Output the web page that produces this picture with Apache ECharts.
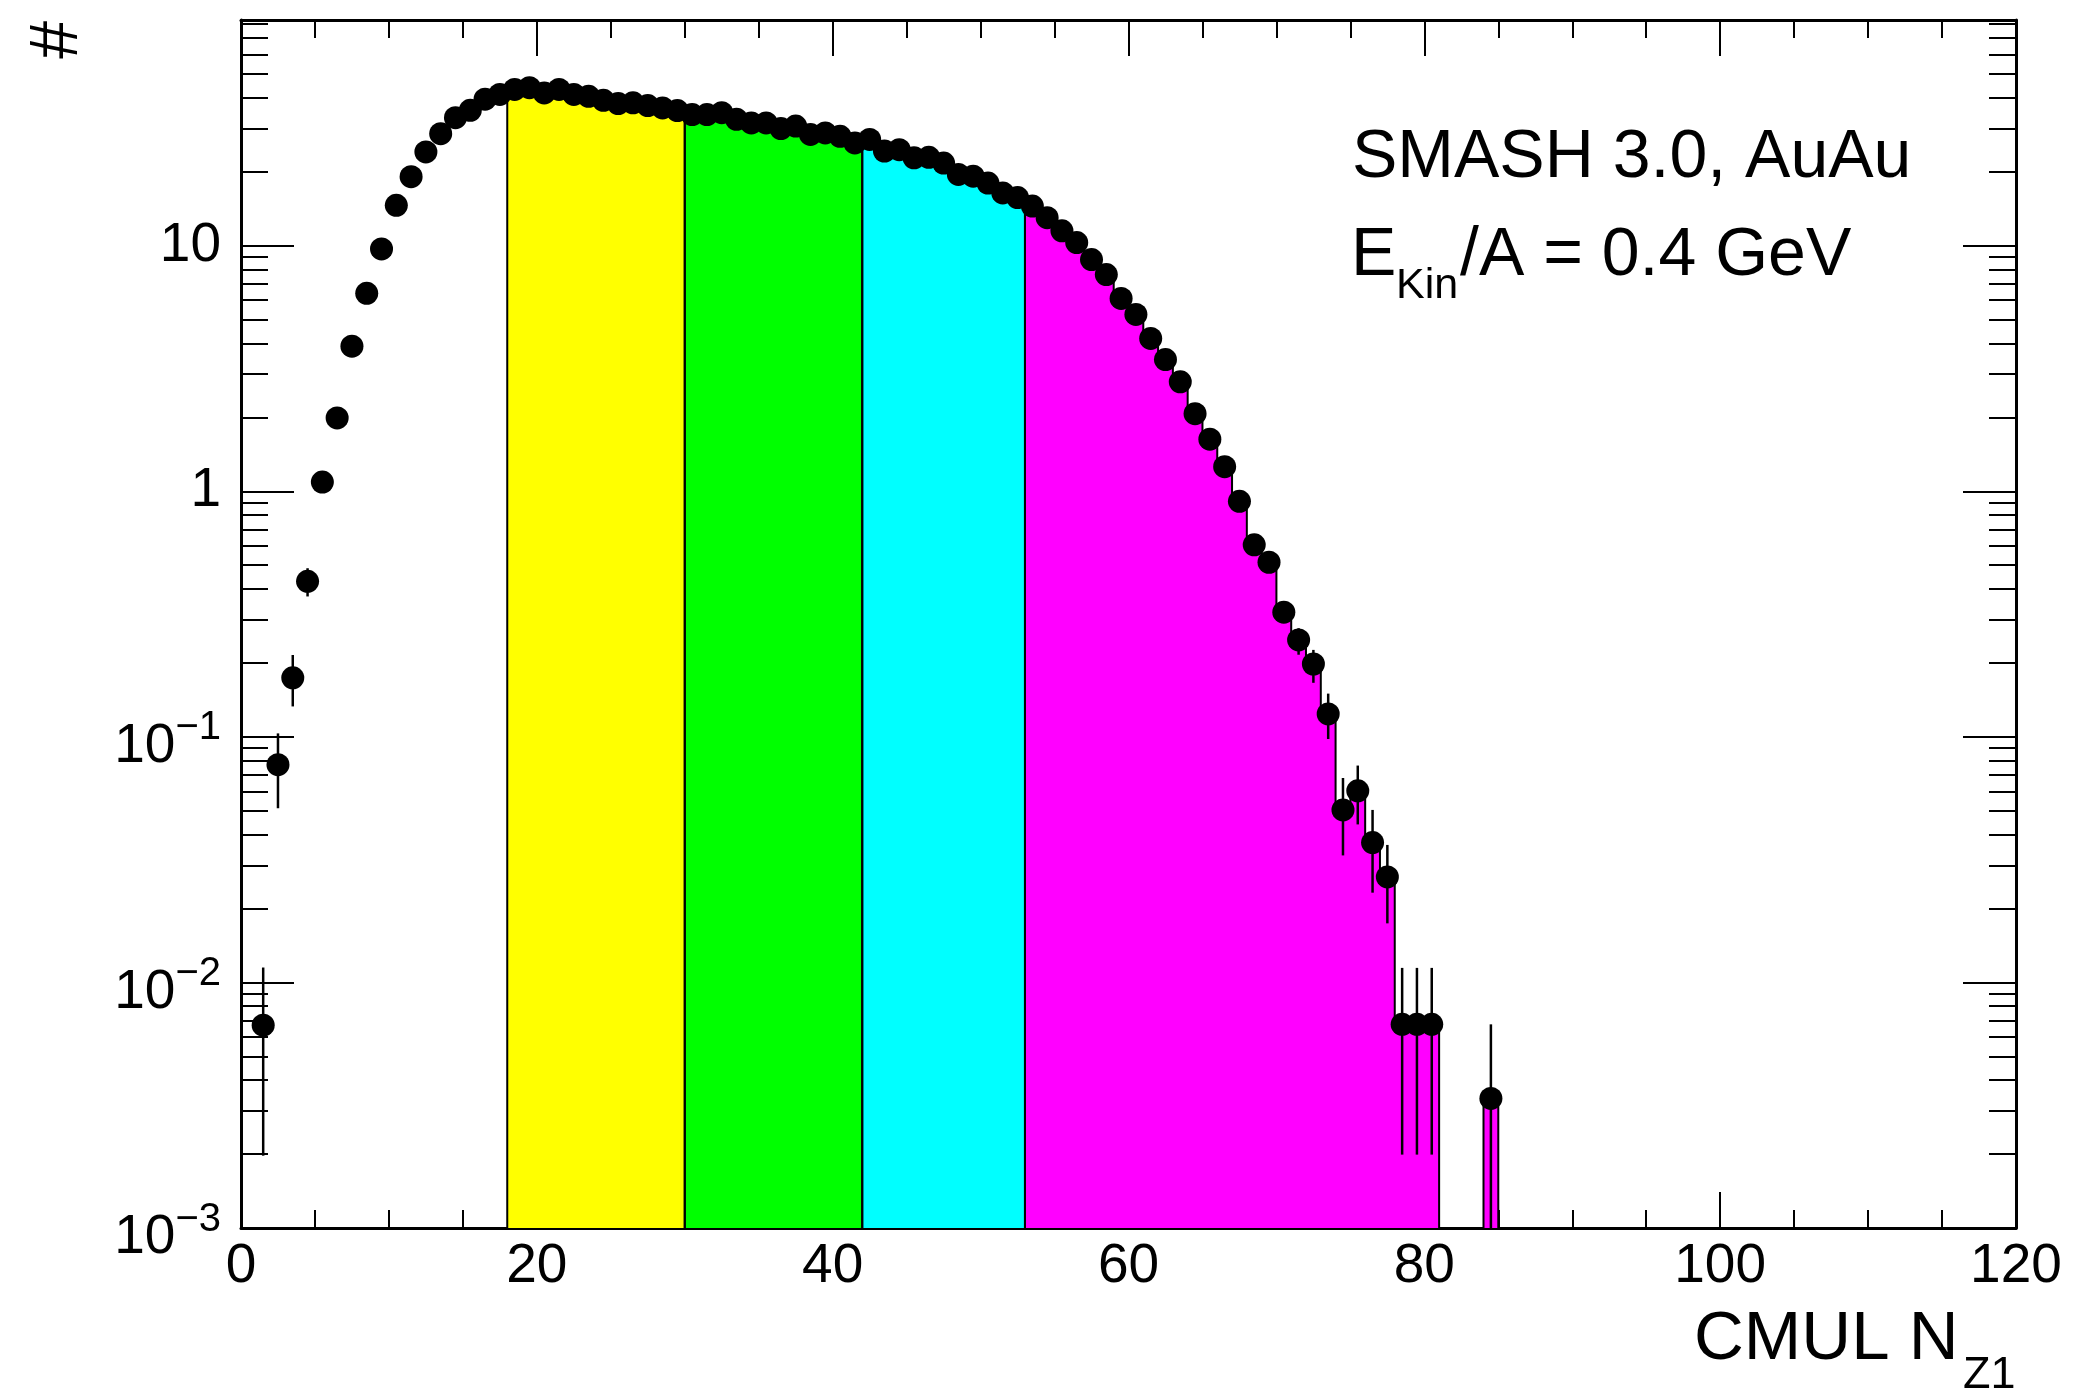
<!DOCTYPE html>
<html>
<head>
<meta charset="utf-8">
<script src="https://cdn.jsdelivr.net/npm/echarts@6/dist/echarts.min.js"></script>
<style>
  html, body { margin: 0; padding: 0; background: #fff; }
  #chart { width: 2075px; height: 1395px; }
</style>
</head>
<body>
<div id="chart"></div>
<script>
// ---------------- data ----------------
const binCenter = [1.5,2.5,3.5,4.5,5.5,6.5,7.5,8.5,9.5,10.5,11.5,12.5,13.5,14.5,15.5,16.5,17.5,
  18.5,19.5,20.5,21.5,22.5,23.5,24.5,25.5,26.5,27.5,28.5,29.5,
  30.5,31.5,32.5,33.5,34.5,35.5,36.5,37.5,38.5,39.5,40.5,41.5,
  42.5,43.5,44.5,45.5,46.5,47.5,48.5,49.5,50.5,51.5,52.5,
  53.5,54.5,55.5,56.5,57.5,58.5,59.5,60.5,61.5,62.5,63.5,64.5,65.5,66.5,67.5,68.5,69.5,70.5,
  71.5,72.5,73.5,74.5,75.5,76.5,77.5,78.5,79.5,80.5,84.5];
const binValue = [0.0067,0.077,0.174,0.43,1.09,1.99,3.9,6.4,9.7,14.6,19.1,24.1,28.6,33.2,35.6,39.5,41.3,
  43.3,44.0,41.9,43.3,41.3,40.6,39.1,37.9,38.2,37.2,36.4,35.5,
  34.2,34.2,34.8,32.7,31.6,31.6,30.0,30.7,28.4,28.8,27.9,26.2,
  27.1,24.3,24.6,22.8,22.9,21.7,19.5,19.2,18.0,16.4,15.7,
  14.5,13.0,11.5,10.3,8.78,7.63,6.10,5.25,4.19,3.44,2.79,2.07,1.63,1.26,0.91,0.605,0.514,0.322,
  0.248,0.198,0.124,0.0504,0.0603,0.0371,0.0269,0.00675,0.00675,0.00675,0.00337];

// visible error bars
const errX  = [1.5, 2.5, 3.5, 4.5, 71.5, 72.5, 73.5, 74.5, 75.5, 76.5, 77.5, 78.5, 79.5, 80.5, 84.5];
const errLo = [0.00197, 0.0512, 0.133, 0.373, 0.216, 0.166, 0.098, 0.0329, 0.044, 0.0232, 0.0174, 0.00199, 0.00199, 0.00199, 0.001];
const errHi = [0.0115, 0.1033, 0.2154, 0.486, 0.277, 0.226, 0.150, 0.068, 0.0764, 0.0504, 0.0363, 0.01146, 0.01146, 0.01146, 0.00675];

// centrality classes (fill bands)
const bandLow   = [18, 30, 42, 53];
const bandHigh  = [30, 42, 53, 85];
const bandColor = ['#ffff00', '#00ff00', '#00ffff', '#ff00ff'];

// axes
const xMin = 0, xMax = 120, xInterval = 20;
const yMin = 0.001, yMax = 83;
const yMajorTicks = [0.001, 0.01, 0.1, 1, 10];
const yMajorLabels = ['{b|10}{s|\u22123}', '{b|10}{s|\u22122}', '{b|10}{s|\u22121}', '1', '10'];
const yMinorTicks = [0.002,0.003,0.004,0.005,0.006,0.007,0.008,0.009,
  0.02,0.03,0.04,0.05,0.06,0.07,0.08,0.09,
  0.2,0.3,0.4,0.5,0.6,0.7,0.8,0.9,
  2,3,4,5,6,7,8,9,
  20,30,40,50,60,70,80];

// ---------------- build ----------------
const FONT = "'Liberation Sans', Arial, Helvetica, sans-serif";

function bandOf(lo, hi) {
  for (let b = 0; b < bandLow.length; b++) {
    if (lo >= bandLow[b] && hi <= bandHigh[b]) return b;
  }
  return -1;
}

const fillData = [];
for (let i = 0; i < binCenter.length; i++) {
  const lo = binCenter[i] - 0.5, hi = binCenter[i] + 0.5;
  const b = bandOf(lo, hi);
  if (b < 0 || !(binValue[i] > 0)) continue;
  let prev = yMin;
  if (i > 0 && Math.abs(binCenter[i - 1] - (binCenter[i] - 1)) < 1e-9 && bandOf(lo - 1, lo) === b) prev = binValue[i - 1];
  let last = 1;
  if (i < binCenter.length - 1 && Math.abs(binCenter[i + 1] - (binCenter[i] + 1)) < 1e-9 && bandOf(hi, hi + 1) === b) last = 0;
  fillData.push([lo, hi, binValue[i], b, prev, last]);
}

const pointData = binCenter.map((c, i) => [c, binValue[i]]);
const errData = errX.map((x, i) => [x, errLo[i], errHi[i]]);

const chart = echarts.init(document.getElementById('chart'), null, { renderer: 'canvas' });

const axisLineStyle = { color: '#000', width: 3 };
const tickStyle = { color: '#000', width: 2 };

function xAxisDef(pos, showLabel) {
  return {
    type: 'value', position: pos, min: xMin, max: xMax, interval: xInterval,
    axisLine: { show: true, onZero: false, lineStyle: axisLineStyle },
    axisTick: { show: true, inside: true, length: 36, lineStyle: tickStyle },
    minorTick: { show: true, splitNumber: 4, length: 18, lineStyle: tickStyle },
    splitLine: { show: false }, minorSplitLine: { show: false },
    axisLabel: { show: showLabel, color: '#000', fontFamily: FONT, fontSize: 55, margin: 11 }
  };
}

function yAxisDef(pos, major, showLine, showLabel) {
  return {
    type: 'log', logBase: 10, position: pos, min: yMin, max: yMax,
    axisLine: { show: showLine, onZero: false, lineStyle: axisLineStyle },
    axisTick: { show: true, inside: true, length: major ? 53 : 27, lineStyle: tickStyle,
                customValues: major ? yMajorTicks : yMinorTicks },
    minorTick: { show: false },
    splitLine: { show: false },
    axisLabel: showLabel ? {
      show: true, customValues: yMajorTicks, color: '#000', fontFamily: FONT, fontSize: 55, margin: 20,
      formatter: function (v) {
        const lv = Math.log10(v);
        for (let k = 0; k < yMajorTicks.length; k++) {
          if (Math.abs(Math.log10(yMajorTicks[k]) - lv) < 1e-6) return yMajorLabels[k];
        }
        return '';
      },
      rich: {
        b: { fontFamily: FONT, fontSize: 55, lineHeight: 75, verticalAlign: 'bottom', color: '#000' },
        s: { fontFamily: FONT, fontSize: 40, lineHeight: 40, verticalAlign: 'top', padding: [9, 0, 0, 0], color: '#000' }
      }
    } : { show: false }
  };
}

const option = {
  animation: false,
  backgroundColor: '#ffffff',
  grid: { left: 241, right: 59, top: 20, bottom: 167, containLabel: false, outerBoundsMode: 'none' },
  xAxis: [ xAxisDef('bottom', true), xAxisDef('top', false) ],
  yAxis: [
    yAxisDef('left', true, true, true),
    yAxisDef('left', false, false, false),
    yAxisDef('right', true, true, false),
    yAxisDef('right', false, false, false)
  ],
  series: [
    {
      type: 'custom', name: 'classes', xAxisIndex: 0, yAxisIndex: 0, z: 2,
      data: fillData,
      encode: { x: [0, 1], y: 2 },
      renderItem: function (params, api) {
        const lo = api.value(0), hi = api.value(1), v = api.value(2);
        const b = api.value(3), prev = api.value(4), last = api.value(5);
        const pTL = api.coord([lo, v]);
        const pBR = api.coord([hi, yMin]);
        const xl = Math.round(pTL[0]), xr = Math.round(pBR[0]);
        const rect = {
          type: 'rect', z2: 0,
          shape: { x: xl, y: pTL[1], width: xr - xl, height: pBR[1] - pTL[1] },
          style: { fill: bandColor[b], stroke: null }
        };
        const pts = [api.coord([lo, prev]), pTL, api.coord([hi, v])];
        if (last) pts.push(pBR);
        const outline = {
          type: 'polyline', z2: 10,
          shape: { points: pts },
          style: { stroke: '#000', lineWidth: 2, fill: null }
        };
        return { type: 'group', children: [rect, outline] };
      }
    },
    {
      type: 'custom', name: 'errors', xAxisIndex: 0, yAxisIndex: 0, z: 3,
      data: errData,
      encode: { x: 0, y: [1, 2] },
      renderItem: function (params, api) {
        const p1 = api.coord([api.value(0), api.value(1)]);
        const p2 = api.coord([api.value(0), api.value(2)]);
        return {
          type: 'line',
          shape: { x1: p1[0], y1: p1[1], x2: p2[0], y2: p2[1] },
          style: { stroke: '#000', lineWidth: 2.5 }
        };
      }
    },
    {
      type: 'scatter', name: 'CMUL', xAxisIndex: 0, yAxisIndex: 0, z: 4,
      data: pointData,
      symbol: 'circle', symbolSize: 23,
      itemStyle: { color: '#000', opacity: 1 },
      emphasis: { disabled: true }
    }
  ],
  graphic: [
    { type: 'text', x: 92, y: 21, rotation: Math.PI / 2,
      style: { text: '#', fontFamily: FONT, fontSize: 68, lineHeight: 68, fill: '#000', align: 'right', verticalAlign: 'bottom' } },
    { type: 'text', x: 1694, y: 1374,
      style: { text: 'CMUL N', fontFamily: FONT, fontSize: 69, lineHeight: 69, fill: '#000', align: 'left', verticalAlign: 'bottom' } },
    { type: 'text', x: 1963, y: 1398,
      style: { text: 'Z1', fontFamily: FONT, fontSize: 45, lineHeight: 45, fill: '#000', align: 'left', verticalAlign: 'bottom' } },
    { type: 'text', x: 1352, y: 192,
      style: { text: 'SMASH 3.0, AuAu', fontFamily: FONT, fontSize: 68, lineHeight: 68, fill: '#000', align: 'left', verticalAlign: 'bottom' } },
    { type: 'text', x: 1351, y: 290,
      style: { text: 'E', fontFamily: FONT, fontSize: 68, lineHeight: 68, fill: '#000', align: 'left', verticalAlign: 'bottom' } },
    { type: 'text', x: 1396, y: 308,
      style: { text: 'Kin', fontFamily: FONT, fontSize: 43, lineHeight: 43, fill: '#000', align: 'left', verticalAlign: 'bottom' } },
    { type: 'text', x: 1460, y: 290,
      style: { text: '/A = 0.4 GeV', fontFamily: FONT, fontSize: 68, lineHeight: 68, fill: '#000', align: 'left', verticalAlign: 'bottom' } }
  ]
};

chart.setOption(option);
</script>
</body>
</html>
